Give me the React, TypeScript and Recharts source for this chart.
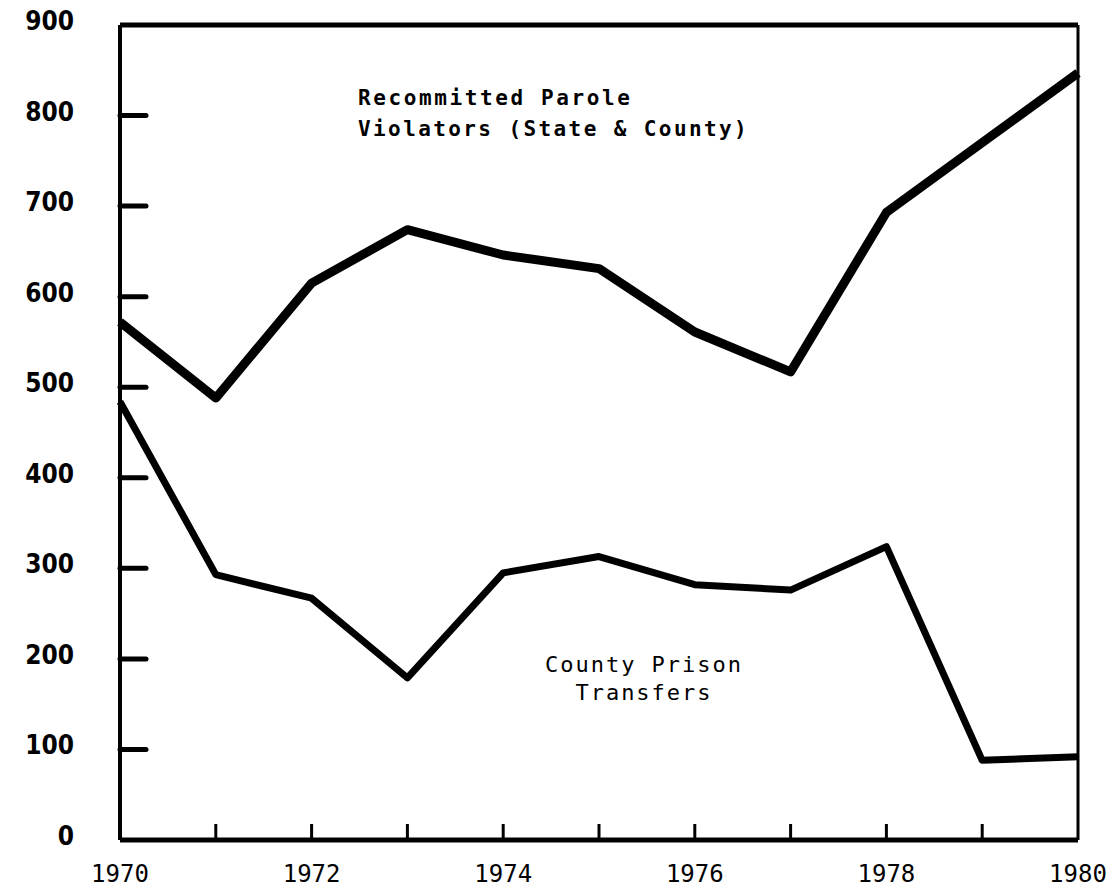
import { Line, LineChart, ReferenceLine, XAxis, YAxis } from "recharts";

const years = [1970, 1971, 1972, 1973, 1974, 1975, 1976, 1977, 1978, 1979, 1980];
const paroleViolators = [572, 488, 615, 674, 646, 631, 561, 517, 693, 770, 847];
const countyTransfers = [484, 293, 267, 179, 295, 313, 282, 276, 324, 88, 92];
const yTicks = [0, 100, 200, 300, 400, 500, 600, 700, 800, 900];
const xLabels = [1970, 1972, 1974, 1976, 1978, 1980];

const data = years.map((year, i) => ({
  year,
  parole: paroleViolators[i],
  county: countyTransfers[i],
}));

const YTick = (props: any) => {
  const { x, y, payload } = props;
  const v = payload.value;
  const showStub = v > 0 && v < 900;
  return (
    <g>
      {showStub && <line x1={x} x2={x + 26} y1={y} y2={y} stroke="#000" strokeWidth={5} strokeLinecap="round" />}
      <text
        x={x - 46}
        y={y - 4}
        textAnchor="end"
        dominantBaseline="central"
        fontFamily="'DejaVu Sans Condensed', 'DejaVu Sans'"
        fontWeight="bold"
        fontSize={26}
        fill="#000"
      >
        {v}
      </text>
    </g>
  );
};

const XTick = (props: any) => {
  const { x, y, payload } = props;
  const v = payload.value;
  const edge = v === 1970 || v === 1980;
  return (
    <g>
      {!edge && <line x1={x} x2={x} y1={y} y2={y - 16} stroke="#000" strokeWidth={3} />}
      {xLabels.includes(v) && (
        <text
          x={x}
          y={y + 42}
          textAnchor="middle"
          fontFamily="'DejaVu Sans Mono', monospace"
          fontSize={24}
          fill="#000"
        >
          {v}
        </text>
      )}
    </g>
  );
};

export default function App() {
  return (
    <div style={{ position: "absolute", left: 0, top: 0, width: 1112, height: 894, background: "#fff" }}>
      <LineChart width={1112} height={894} data={data} margin={{ top: 25, right: 34, left: 0, bottom: 0 }}>
        <XAxis
          dataKey="year"
          type="number"
          domain={[1970, 1980]}
          ticks={years}
          height={54}
          tickSize={0}
          tickMargin={0}
          tick={<XTick />}
          axisLine={{ stroke: "#000", strokeWidth: 5 }}
          tickLine={false}
        />
        <YAxis
          domain={[0, 900]}
          ticks={yTicks}
          width={120}
          tickSize={0}
          tickMargin={0}
          tick={<YTick />}
          axisLine={{ stroke: "#000", strokeWidth: 4 }}
          tickLine={false}
        />
        <ReferenceLine y={900} stroke="#000" strokeWidth={5} />
        <ReferenceLine x={1980} stroke="#000" strokeWidth={3} />
        <Line
          dataKey="parole"
          type="linear"
          stroke="#000"
          strokeWidth={9}
          strokeLinejoin="round"
          dot={false}
          isAnimationActive={false}
        />
        <Line
          dataKey="county"
          type="linear"
          stroke="#000"
          strokeWidth={7}
          strokeLinejoin="round"
          dot={false}
          isAnimationActive={false}
        />
      </LineChart>
      <svg
        width={1112}
        height={894}
        style={{ position: "absolute", left: 0, top: 0, pointerEvents: "none" }}
      >
        <g fontFamily="'DejaVu Sans Mono', monospace" fill="#000">
          <text x={358} y={105} fontSize={21} fontWeight="bold" letterSpacing={2.6}>
            Recommitted Parole
          </text>
          <text x={358} y={136} fontSize={21} fontWeight="bold" letterSpacing={2.4}>
            Violators (State &amp; County)
          </text>
          <text x={644} y={672} fontSize={22} letterSpacing={2} textAnchor="middle">
            County Prison
          </text>
          <text x={644} y={700} fontSize={22} letterSpacing={2} textAnchor="middle">
            Transfers
          </text>
        </g>
      </svg>
    </div>
  );
}
